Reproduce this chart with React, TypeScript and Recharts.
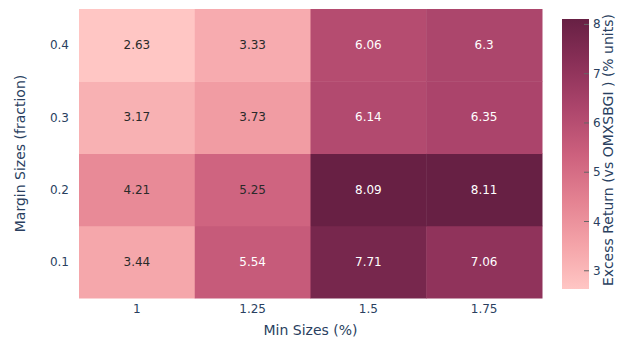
import React from 'react';
import {
	ScatterChart,
	Scatter,
	XAxis,
	YAxis,
	BarChart,
	Bar,
	Label,
} from 'recharts';

//================================================================================
// Heatmap data: excess return by min size (columns) and margin size (rows)
//================================================================================
const minSizes = ['1', '1.25', '1.5', '1.75'];
const marginSizes = ['0.1', '0.2', '0.3', '0.4'];

const excessMargin01 = [3.44, 5.54, 7.71, 7.06];
const excessMargin02 = [4.21, 5.25, 8.09, 8.11];
const excessMargin03 = [3.17, 3.73, 6.14, 6.35];
const excessMargin04 = [2.63, 3.33, 6.06, 6.3];

const colorbarTicks = [3, 4, 5, 6, 7, 8];

// plotly "Burg" colorscale
const burg = ['#ffc6c4', '#f4a3a8', '#e38191', '#cc607d', '#ad466c', '#8b3058', '#672044'];

const rows = [excessMargin01, excessMargin02, excessMargin03, excessMargin04];
const cells = rows.flatMap((row, ri) =>
	row.map((value, ci) => ({ x: ci, y: ri, value }))
);
const zmin = Math.min(...rows.flat());
const zmax = Math.max(...rows.flat());

const hexToRgb = (h: string) => [
	parseInt(h.slice(1, 3), 16),
	parseInt(h.slice(3, 5), 16),
	parseInt(h.slice(5, 7), 16),
];

const colorFor = (v: number) => {
	const t = Math.max(0, Math.min(1, (v - zmin) / (zmax - zmin))) * (burg.length - 1);
	const i = Math.min(Math.floor(t), burg.length - 2);
	const f = t - i;
	const a = hexToRgb(burg[i]);
	const b = hexToRgb(burg[i + 1]);
	return a.map((c, k) => Math.round(c + (b[k] - c) * f));
};

const W = 619;
const H = 345;
const margin = { top: 9, right: 77, bottom: 0, left: 0 };
const Y_AXIS_W = 79;
const X_AXIS_H = 47;
const cellW = (W - margin.right - Y_AXIS_W) / minSizes.length;
const cellH = (H - margin.top - X_AXIS_H) / marginSizes.length;

const FONT = '"DejaVu Sans", verdana, arial, sans-serif';
const AXIS_COLOR = '#2a3f5f';

const HeatCell = (props: any) => {
	const { cx, cy, payload } = props;
	const rgb = colorFor(payload.value);
	const bright = (rgb[0] * 299 + rgb[1] * 587 + rgb[2] * 114) / 1000;
	return (
		<g>
			<rect
				x={cx - cellW / 2}
				y={cy - cellH / 2}
				width={cellW + 0.5}
				height={cellH + 0.5}
				fill={`rgb(${rgb.join(',')})`}
			/>
			<text
				x={cx}
				y={cy}
				textAnchor="middle"
				dominantBaseline="central"
				fontFamily={FONT}
				fontSize={12}
				fill={bright > 128 ? '#2a2a2a' : '#fff'}
			>
				{String(payload.value)}
			</text>
		</g>
	);
};

const YTitle = () => {
	const x = 20;
	const y = margin.top + (H - margin.top - X_AXIS_H) / 2;
	return (
		<text
			x={x}
			y={y}
			transform={`rotate(-90 ${x} ${y})`}
			textAnchor="middle"
			dominantBaseline="central"
			fontFamily={FONT}
			fontSize={14}
			fill={AXIS_COLOR}
		>
			Margin Sizes (fraction)
		</text>
	);
};

const XTitle = (props: any) => {
	const { viewBox } = props;
	return (
		<text
			x={viewBox.x + viewBox.width / 2}
			y={330}
			textAnchor="middle"
			dominantBaseline="central"
			fontFamily={FONT}
			fontSize={14}
			fill={AXIS_COLOR}
		>
			Min Sizes (%)
		</text>
	);
};

const ColorbarTitle = () => {
	const x = 68;
	const y = 150;
	return (
		<text
			x={x}
			y={y}
			transform={`rotate(-90 ${x} ${y})`}
			textAnchor="middle"
			dominantBaseline="central"
			fontFamily={FONT}
			fontSize={14}
			fill={AXIS_COLOR}
		>
			Excess Return (vs OMXSBGI ) (% units)
		</text>
	);
};

const ColorbarTick = (props: any) => {
	const { x, y, payload } = props;
	return (
		<g>
			<line x1={x - 9} x2={x - 4} y1={y} y2={y} stroke="#666" strokeWidth={1} />
			<text
				x={x}
				y={y}
				dominantBaseline="central"
				fontFamily={FONT}
				fontSize={12}
				fill={AXIS_COLOR}
			>
				{payload.value}
			</text>
		</g>
	);
};

const colorbarData = [{ name: 'z', range: [zmin, zmax] }];

export default function App() {
	return (
		<div style={{ position: 'absolute', left: 0, top: 0, width: W, height: H, background: '#fff' }}>
			<ScatterChart width={W} height={H} margin={margin}>
				<XAxis
					type="number"
					dataKey="x"
					domain={[-0.5, minSizes.length - 0.5]}
					ticks={minSizes.map((_, i) => i)}
					tickFormatter={(i: number) => minSizes[i]}
					height={X_AXIS_H}
					axisLine={false}
					tickLine={false}
					tickSize={6}
					tickMargin={0}
					tick={{ fill: AXIS_COLOR, fontSize: 12, fontFamily: FONT }}
				>
					<Label content={<XTitle />} />
				</XAxis>
				<YAxis
					type="number"
					dataKey="y"
					domain={[-0.5, marginSizes.length - 0.5]}
					ticks={marginSizes.map((_, i) => i)}
					tickFormatter={(i: number) => marginSizes[i]}
					width={Y_AXIS_W}
					axisLine={false}
					tickLine={false}
					tickSize={8}
					tickMargin={2}
					tick={{ fill: AXIS_COLOR, fontSize: 12, fontFamily: FONT }}
				>
					<Label content={<YTitle />} />
				</YAxis>
				<Scatter data={cells} shape={<HeatCell />} isAnimationActive={false} />
			</ScatterChart>
			<div style={{ position: 'absolute', left: 540, top: 0 }}>
				<BarChart
					width={79}
					height={H}
					data={colorbarData}
					margin={{ top: 19, right: 0, bottom: 56, left: 22 }}
					barCategoryGap={0}
				>
					<defs>
						<linearGradient id="burgGrad" x1="0" y1="1" x2="0" y2="0">
							{burg.map((c, i) => (
								<stop key={c} offset={i / (burg.length - 1)} stopColor={c} />
							))}
						</linearGradient>
					</defs>
					<XAxis dataKey="name" hide />
					<YAxis
						orientation="right"
						type="number"
						domain={[zmin, zmax]}
						allowDataOverflow
						ticks={colorbarTicks}
						width={30}
						axisLine={false}
						tickLine={false}
						tickSize={4}
						tickMargin={0}
						tick={<ColorbarTick />}
					>
						<Label content={<ColorbarTitle />} />
					</YAxis>
					<Bar dataKey="range" fill="url(#burgGrad)" isAnimationActive={false} />
				</BarChart>
			</div>
		</div>
	);
}
